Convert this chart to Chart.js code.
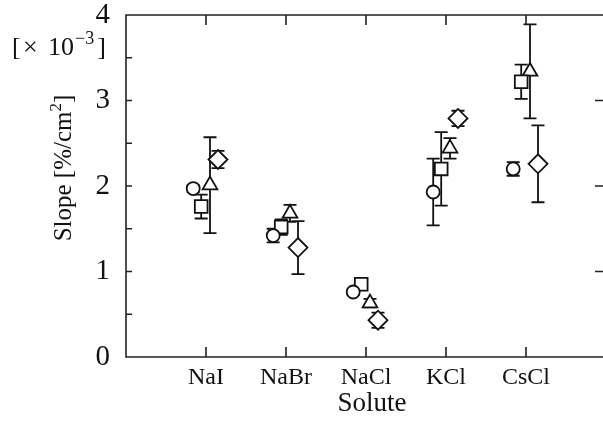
<!DOCTYPE html>
<html>
<head>
<meta charset="utf-8">
<script src="https://cdn.jsdelivr.net/npm/chart.js@4.4.1/dist/chart.umd.min.js"></script>
<style>
  html, body { margin: 0; padding: 0; background: #fff; }
  #wrap { width: 603px; height: 421px; }
</style>
</head>
<body>
<div id="wrap"><canvas id="c" width="603" height="421"></canvas></div>
<script>
// data (slope, x 10^-3 %/cm2)
const solutes = ['NaI', 'NaBr', 'NaCl', 'KCl', 'CsCl'];

const circleVals = [1.97, 1.42, 0.76, 1.93, 2.20];
const circleErr = [0.04, 0.08, 0.03, 0.39, 0.08];
const squareVals = [1.76, 1.52, 0.85, 2.20, 3.22];
const squareErr = [0.14, 0.09, 0.04, 0.43, 0.20];
const triangleVals = [2.01, 1.68, 0.63, 2.44, 3.34];
const triangleErr = [0.56, 0.10, 0.05, 0.12, 0.55];
const diamondVals = [2.31, 1.28, 0.43, 2.79, 2.26];
const diamondErr = [0.10, 0.31, 0.09, 0.09, 0.45];

const offsets = [-0.16, -0.06, 0.05, 0.15];
const yTicks = [0, 1, 2, 3, 4];

const serif = '"Liberation Serif", "Times New Roman", serif';
const ink = '#111';

function toPoints(vals, errs, k) {
    return vals.map((v, i) => ({ x: i + 1 + offsets[k], y: v, err: errs[i] }));
}

function makeSet(vals, errs, k, style, r) {
    return {
        label: style,
        data: toPoints(vals, errs, k),
        pointStyle: style,
        pointRadius: r,
        pointHoverRadius: r,
        pointBackgroundColor: '#fff',
        pointBorderColor: ink,
        pointBorderWidth: 1.8,
        showLine: false
    };
}

// error bars under the markers
const errorBars = {
    id: 'errorBars',
    beforeDatasetsDraw(chart) {
        const ctx = chart.ctx;
        const xs = chart.scales.x, ys = chart.scales.y;
        ctx.save();
        ctx.strokeStyle = ink;
        ctx.lineWidth = 1.8;
        chart.data.datasets.forEach(ds => {
            ds.data.forEach(p => {
                const px = xs.getPixelForValue(p.x);
                const top = ys.getPixelForValue(p.y + p.err);
                const bot = ys.getPixelForValue(p.y - p.err);
                ctx.beginPath();
                ctx.moveTo(px, top); ctx.lineTo(px, bot);
                ctx.moveTo(px - 6.5, top); ctx.lineTo(px + 6.5, top);
                ctx.moveTo(px - 6.5, bot); ctx.lineTo(px + 6.5, bot);
                ctx.stroke();
            });
        });
        ctx.restore();
    }
};

// frame, inward ticks and the axis titles
const frame = {
    id: 'frame',
    afterDraw(chart) {
        const ctx = chart.ctx;
        const a = chart.chartArea;
        const xs = chart.scales.x, ys = chart.scales.y;
        ctx.save();
        ctx.strokeStyle = '#222';
        ctx.lineWidth = 1.6;
        ctx.beginPath();
        ctx.moveTo(a.right, a.top); ctx.lineTo(a.left, a.top);
        ctx.lineTo(a.left, a.bottom); ctx.lineTo(a.right, a.bottom);
        // left ticks every 0.5
        for (let v = 0.5; v < 4; v += 0.5) {
            const py = ys.getPixelForValue(v);
            ctx.moveTo(a.left, py); ctx.lineTo(a.left + 6, py);
        }
        // right ticks
        [1, 2, 3].forEach(v => {
            const py = ys.getPixelForValue(v);
            ctx.moveTo(a.right, py); ctx.lineTo(a.right - 8, py);
        });
        // top and bottom ticks at the solutes
        solutes.forEach((s, i) => {
            const px = xs.getPixelForValue(i + 1);
            ctx.moveTo(px, a.top); ctx.lineTo(px, a.top + 10);
            ctx.moveTo(px, a.bottom); ctx.lineTo(px, a.bottom - 10);
        });
        ctx.stroke();

        ctx.fillStyle = ink;
        ctx.textBaseline = 'alphabetic';

        // x title
        ctx.font = '27px ' + serif;
        ctx.textAlign = 'center';
        ctx.fillText('Solute', 372, 411);

        // y title, rotated
        ctx.save();
        ctx.translate(71, 168);
        ctx.rotate(-Math.PI / 2);
        const t1 = 'Slope [%/cm', t2 = ']';
        ctx.font = '25px ' + serif;
        const w1 = ctx.measureText(t1).width;
        const w3 = ctx.measureText(t2).width;
        ctx.font = '17px ' + serif;
        const w2 = ctx.measureText('2').width;
        let x0 = -(w1 + w2 + w3) / 2;
        ctx.textAlign = 'left';
        ctx.font = '25px ' + serif;
        ctx.fillText(t1, x0, 0);
        ctx.font = '17px ' + serif;
        ctx.fillText('2', x0 + w1, -10);
        ctx.font = '25px ' + serif;
        ctx.fillText(t2, x0 + w1 + w2, 0);
        ctx.restore();

        // multiplier label
        ctx.textAlign = 'left';
        ctx.font = '26px ' + serif;
        ctx.fillText('[', 12, 55);
        ctx.fillText('\u00d7', 23, 55);
        ctx.fillText('10', 48, 55);
        let mx = 48 + ctx.measureText('10').width;
        ctx.font = '18px ' + serif;
        ctx.fillText('\u22123', mx + 1, 44);
        mx += ctx.measureText('\u22123').width + 4;
        ctx.font = '26px ' + serif;
        ctx.fillText(']', mx, 55);
        ctx.restore();
    }
};

new Chart(document.getElementById('c'), {
    type: 'scatter',
    data: {
        datasets: [
            makeSet(circleVals, circleErr, 0, 'circle', 6.5),
            makeSet(squareVals, squareErr, 1, 'rect', 9),
            makeSet(triangleVals, triangleErr, 2, 'triangle', 8.5),
            makeSet(diamondVals, diamondErr, 3, 'rectRot', 9.5)
        ]
    },
    options: {
        responsive: false,
        animation: false,
        layout: { autoPadding: false, padding: { top: 15, right: 0, left: 0, bottom: 0 } },
        plugins: { legend: { display: false }, tooltip: { enabled: false } },
        scales: {
            x: {
                type: 'linear',
                min: 0,
                max: 5.9625,
                grid: { display: false },
                border: { display: false },
                afterFit: scale => {
                    scale.height = 64;
                    scale.paddingLeft = 0;
                    scale.paddingRight = 0;
                },
                afterBuildTicks: scale => {
                    scale.ticks = solutes.map((s, i) => ({ value: i + 1 }));
                },
                ticks: {
                    autoSkip: false,
                    maxRotation: 0,
                    padding: -2,
                    color: ink,
                    font: { family: serif, size: 24 },
                    callback: v => solutes[v - 1]
                }
            },
            y: {
                min: 0,
                max: 4,
                grid: { display: false },
                border: { display: false },
                afterFit: scale => {
                    scale.width = 126;
                    scale.paddingTop = 0;
                    scale.paddingBottom = 0;
                },
                afterBuildTicks: scale => {
                    scale.ticks = yTicks.map(v => ({ value: v }));
                },
                ticks: {
                    padding: 8,
                    color: ink,
                    font: { family: serif, size: 29 }
                }
            }
        }
    },
    plugins: [errorBars, frame]
});
</script>
</body>
</html>
